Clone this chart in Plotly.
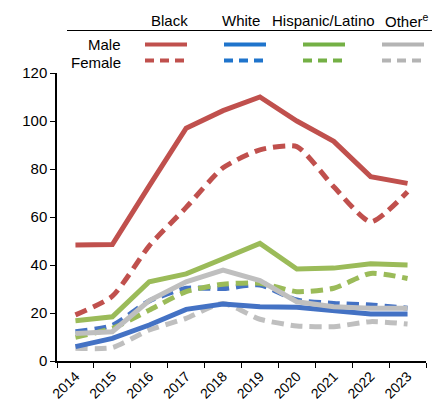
import plotly.graph_objects as go

years = ["2014", "2015", "2016", "2017", "2018", "2019", "2020", "2021", "2022", "2023"]

black_male = [48.3, 48.5, 73, 97, 104.3, 110, 100, 91.5, 76.8, 74]
black_female = [19.2, 27, 48, 64, 80.5, 88, 89.3, 72.6, 58, 70.5]
white_male = [6, 9.4, 15, 21.5, 23.7, 22.6, 22.4, 21, 19.6, 19.6]
white_female = [12.2, 14.8, 25, 30.3, 30.2, 31.7, 25.4, 24, 23.3, 22]
hisp_male = [16.8, 18.4, 33, 36.3, 42.6, 49, 38.3, 38.7, 40.5, 40]
hisp_female = [9.9, 13.6, 21.2, 28.9, 32, 32.4, 28.9, 30.3, 36.5, 34.4]
other_male = [11.5, 12.2, 25.2, 33, 37.9, 33.5, 24.7, 22.6, 22, 22]
other_female = [5.3, 5.6, 12.9, 17.8, 24, 17.4, 14.6, 14.3, 16.4, 15.4]

groups = ["Black", "White", "Hispanic/Latino", "Other<sup>e</sup>"]
sexes = ["Male", "Female"]
y_ticks = [0, 20, 40, 60, 80, 100, 120]

plot_colors = ["#C0504D", "#4472C4", "#9BBB59", "#BFBFBF"]
legend_colors = ["#C0504D", "#1F74CC", "#74B045", "#B4B4B4"]

series = [
    (white_female, 1, True), (other_female, 3, True), (hisp_female, 2, True),
    (white_male, 1, False), (other_male, 3, False), (hisp_male, 2, False),
    (black_female, 0, True), (black_male, 0, False),
]

fig = go.Figure()
for vals, gi, dashed in series:
    fig.add_trace(go.Scatter(
        x=years, y=vals, mode="lines",
        line=dict(color=plot_colors[gi], width=5,
                  dash="12px,7px" if dashed else "solid",
                  shape="spline" if dashed else "linear", smoothing=0.6),
        showlegend=False, hoverinfo="skip"))

font = "Liberation Sans, Arial, sans-serif"

def px_x(p):
    return (p - 57) / 369.0

def px_y(p):
    return (361 - p) / 288.0

# legend table
header_x = [169, 241, 323, 383]
header_anchor = ["center", "center", "center", "left"]
sample_x = [(145, 187), (224, 266), (303, 345), (382, 424)]
annotations = []
shapes = []
for i, g in enumerate(groups):
    annotations.append(dict(text=g, x=px_x(header_x[i]), y=px_y(20), xref="paper", yref="paper",
                            showarrow=False, xanchor=header_anchor[i], yanchor="middle",
                            font=dict(family=font, size=15, color="black")))
    x0, x1 = sample_x[i]
    shapes.append(dict(type="line", xref="paper", yref="paper", x0=px_x(x0), x1=px_x(x1),
                       y0=px_y(44.5), y1=px_y(44.5), line=dict(color=legend_colors[i], width=4)))
    shapes.append(dict(type="line", xref="paper", yref="paper", x0=px_x(x0), x1=px_x(x1),
                       y0=px_y(60.5), y1=px_y(60.5),
                       line=dict(color=legend_colors[i], width=4, dash="9px,6px")))
for s, py in zip(sexes, [44, 62]):
    annotations.append(dict(text=s, x=px_x(123), y=px_y(py), xref="paper", yref="paper",
                            showarrow=False, xanchor="right", yanchor="middle",
                            font=dict(family=font, size=15, color="black")))
shapes.append(dict(type="line", xref="paper", yref="paper", x0=px_x(67), x1=px_x(432),
                   y0=px_y(30.5), y1=px_y(30.5), line=dict(color="black", width=1.2)))

fig.update_layout(
    width=432, height=408,
    margin=dict(l=57, r=6, t=73, b=47),
    paper_bgcolor="white", plot_bgcolor="white",
    font=dict(family=font, size=14, color="black"),
    annotations=annotations, shapes=shapes,
    xaxis=dict(type="category", range=[-0.5, len(years) - 0.5], tickangle=-45,
               tickson="boundaries", ticks="outside",
               ticklen=5, tickwidth=1.2, tickcolor="black", showline=True, linecolor="black",
               linewidth=1.5, showgrid=False, tickfont=dict(size=14), zeroline=False,
               automargin=False),
    yaxis=dict(range=[0, 120], tickvals=y_ticks, ticks="outside", ticklen=5, tickwidth=1.2,
               tickcolor="black", showline=True, linecolor="black", linewidth=1.5,
               showgrid=False, zeroline=False, tickfont=dict(size=15), automargin=False),
)

fig.write_html("out.html", config={"displayModeBar": False},
               post_script="document.body.style.margin='0';document.body.style.padding='0';")
